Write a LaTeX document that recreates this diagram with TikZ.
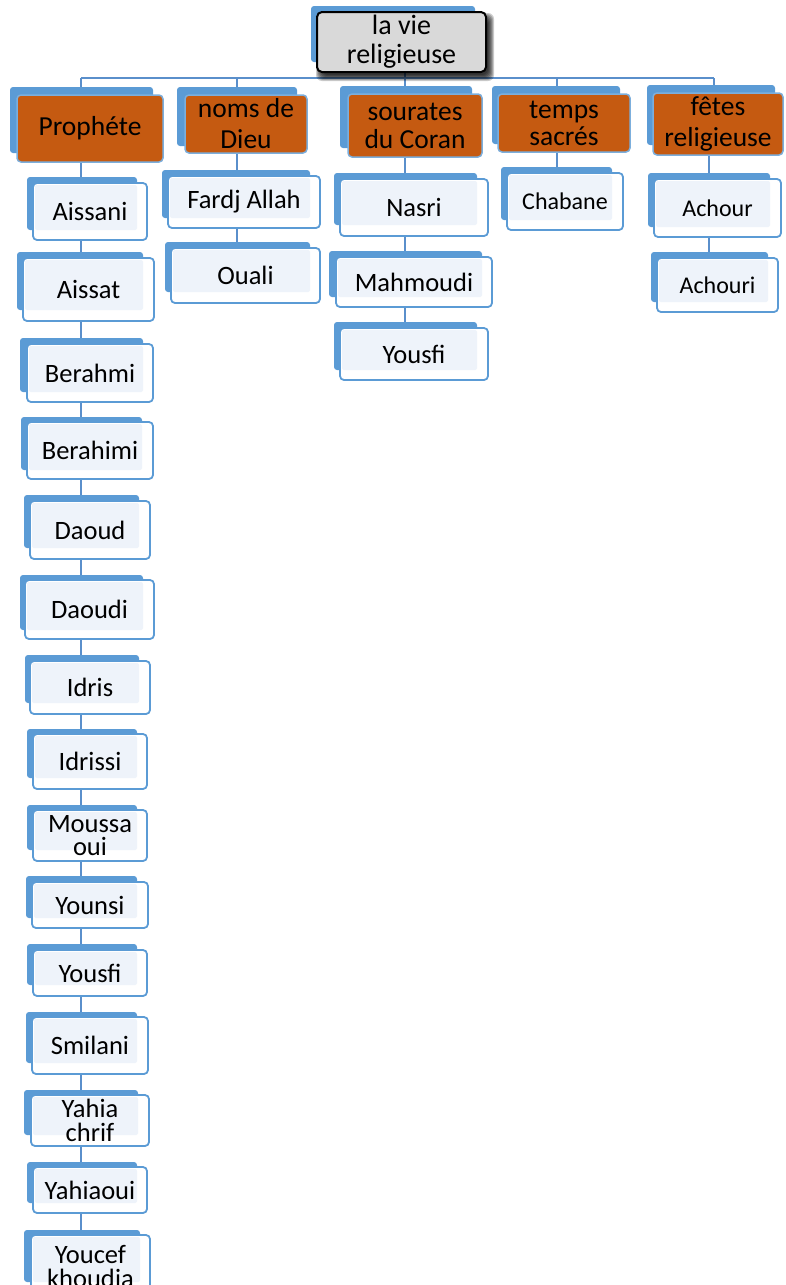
\documentclass[tikz,border=0pt]{standalone}
\usepackage{fontspec}
\setmainfont{Carlito}
\usetikzlibrary{fit,calc,backgrounds}
\definecolor{sblue}{HTML}{5B9BD5}
\definecolor{lblue}{HTML}{5A8FCB}
\definecolor{lightc}{HTML}{EEF3FA}
\definecolor{sorange}{HTML}{C55A11}
\definecolor{sgray}{HTML}{D9D9D9}
\tikzset{
  backc/.style={fill=sblue, rounded corners=3pt},
  frontbox/.style={draw=sblue, line width=1.8pt, rounded corners=4pt, inner sep=0pt},
  itext/.style={inner sep=0pt, align=center, font=\fontsize{26.5}{23.5}\selectfont},
  smallfont/.style={font=\fontsize{24}{22}\selectfont},
  catbox/.style={draw=sblue!80, line width=1.5pt, fill=sorange, rounded corners=4pt, inner sep=0pt},
  ctext/.style={inner sep=0pt, align=center, font=\fontsize{27.5}{30}\selectfont},
  rootbox/.style={draw=black, line width=2pt, fill=sgray, rounded corners=5pt, inner sep=0pt},
  rtext/.style={inner sep=0pt, align=center, font=\fontsize{28}{29}\selectfont},
  link/.style={draw=lblue, line width=2pt},
}
\newcommand\ibox[7][]{%
  \fill[backc] (#3) rectangle (#4);
  \fill[white, rounded corners=4pt] (#5) rectangle (#6);
  \fill[lightc, rounded corners=2pt] ($(#5)+(2,2)$) rectangle (#4);
  \node[frontbox, fit={(#5)(#6)}] (#2) {};
  \node[itext, #1] (#2t) at (#2.center) {#7};
}
\newcommand\cbox[7][]{%
  \fill[backc] (#3) rectangle (#4);
  \node[catbox, fit={(#5)(#6)}] (#2) {};
  \node[ctext, #1] (#2t) at (#2.center) {#7};
}
\begin{document}
\begin{tikzpicture}[x=1pt,y=-1pt]
\useasboundingbox (0,0) rectangle (786,1285);
% root
\foreach \s in {-2,-1,0,1,2,3,4}
  \fill[black, opacity=0.2, rounded corners=6pt] ({320-\s},{17-\s}) rectangle ({490+\s},{77+\s});
\fill[backc] (311,6) rectangle (475,62);
\node[rootbox, fit={(317,12)(486,72)}] (root) {};
\node[rtext] (roott) at (root.center) {la vie\\religieuse};
% categories
\cbox{proph}{10,87}{153,153}{17,95}{163,162}{Prophéte}
\cbox[font=\fontsize{27.5}{31}\selectfont]{noms}{177,87}{297,146}{185,95}{307,153}{noms de\\Dieu}
\cbox[font=\fontsize{27.5}{28}\selectfont]{sour}{340,86}{472,148}{348,94}{482,157}{sourates\\du Coran}
\cbox[font=\fontsize{27.5}{27}\selectfont]{temps}{492,86}{620,144}{498,94}{630,152}{temps\\sacrés}
\cbox[font=\fontsize{27.5}{31}\selectfont]{fetes}{647,85}{775,145}{653,93}{783,155}{fêtes\\religieuse}
% Prophete column
\ibox{aissani}{27,177}{137,230}{33,183}{147,240}{Aissani}
\ibox{aissat}{17,252}{143,310}{23,258}{154,321}{Aissat}
\ibox{berahmi}{20,338}{143,392}{27,344}{153,402}{Berahmi}
\ibox{berahimi}{21,417}{142,470}{27,422}{153,479}{Berahimi}
\ibox{daoud}{24,495}{139,548}{30,501}{150,559}{Daoud}
\ibox{daoudi}{20,575}{143,630}{25,580}{154,639}{Daoudi}
\ibox{idris}{25,655}{139,703}{30,661}{150,714}{Idris}
\ibox{idrissi}{27,729}{137,778}{33,734}{147,789}{Idrissi}
\ibox{moussa}{27,805}{137,850}{33,810}{147,861}{Moussa\\oui}
\ibox{younsi}{26,876}{137,918}{32,882}{148,928}{Younsi}
\ibox{yousfiP}{27,944}{137,985}{33,950}{147,996}{Yousfi}
\ibox{smilani}{26,1012}{137,1063}{32,1017}{148,1074}{Smilani}
\ibox{yahia}{24,1090}{138,1135}{31,1095}{149,1146}{Yahia\\chrif}
\ibox{yahiaoui}{27,1162}{137,1203}{33,1167}{147,1213}{Yahiaoui}
\ibox[yshift=-5pt]{youcef}{24,1230}{140,1282}{31,1235}{150,1292}{Youcef\\khoudja}
% noms de Dieu
\ibox{fardj}{162,170}{310,218}{168,176}{320,228}{Fardj Allah}
\ibox{ouali}{165,242}{310,292}{171,248}{320,303}{Ouali}
% sourates
\ibox{nasri}{334,173}{477,225}{340,179}{488,236}{Nasri}
\ibox{mahmoudi}{329,251}{482,297}{336,257}{492,307}{Mahmoudi}
\ibox{yousfiS}{334,322}{477,370}{340,328}{488,380}{Yousfi}
% temps sacres
\ibox[smallfont]{chabane}{501,167}{612,220}{507,173}{623,230}{Chabane}
% fetes
\ibox[smallfont]{achour}{648,173}{770,227}{654,179}{781,237}{Achour}
\ibox[smallfont]{achouri}{651,252}{768,302}{657,258}{778,312}{Achouri}
% connectors
\coordinate (bus) at (0,78);
\coordinate (dP) at (81,0);
\coordinate (dN) at (237,0);
\coordinate (dS) at (405,0);
\coordinate (dT) at (557,0);
\coordinate (dF) at (714,0);
\coordinate (cF) at (709,0);
\begin{pgfonlayer}{background}
  \draw[link] (root.south -| dS) -- (bus -| dS);
  \draw[link] (bus -| dP) -- (bus -| dF);
  \foreach \c/\n in {dP/proph, dN/noms, dS/sour, dT/temps, dF/fetes}
    \draw[link] (bus -| \c) -- (\n.north -| \c);
  \foreach \a/\b in {proph/aissani, aissani/aissat, aissat/berahmi, berahmi/berahimi, berahimi/daoud, daoud/daoudi, daoudi/idris, idris/idrissi, idrissi/moussa, moussa/younsi, younsi/yousfiP, yousfiP/smilani, smilani/yahia, yahia/yahiaoui, yahiaoui/youcef}
    \draw[link] (\a.south -| dP) -- (\b.north -| dP);
  \foreach \a/\b in {noms/fardj, fardj/ouali}
    \draw[link] (\a.south -| dN) -- (\b.north -| dN);
  \foreach \a/\b in {sour/nasri, nasri/mahmoudi, mahmoudi/yousfiS}
    \draw[link] (\a.south -| dS) -- (\b.north -| dS);
  \draw[link] (temps.south -| dT) -- (chabane.north -| dT);
  \foreach \a/\b in {fetes/achour, achour/achouri}
    \draw[link] (\a.south -| cF) -- (\b.north -| cF);
\end{pgfonlayer}
\end{tikzpicture}
\end{document}
